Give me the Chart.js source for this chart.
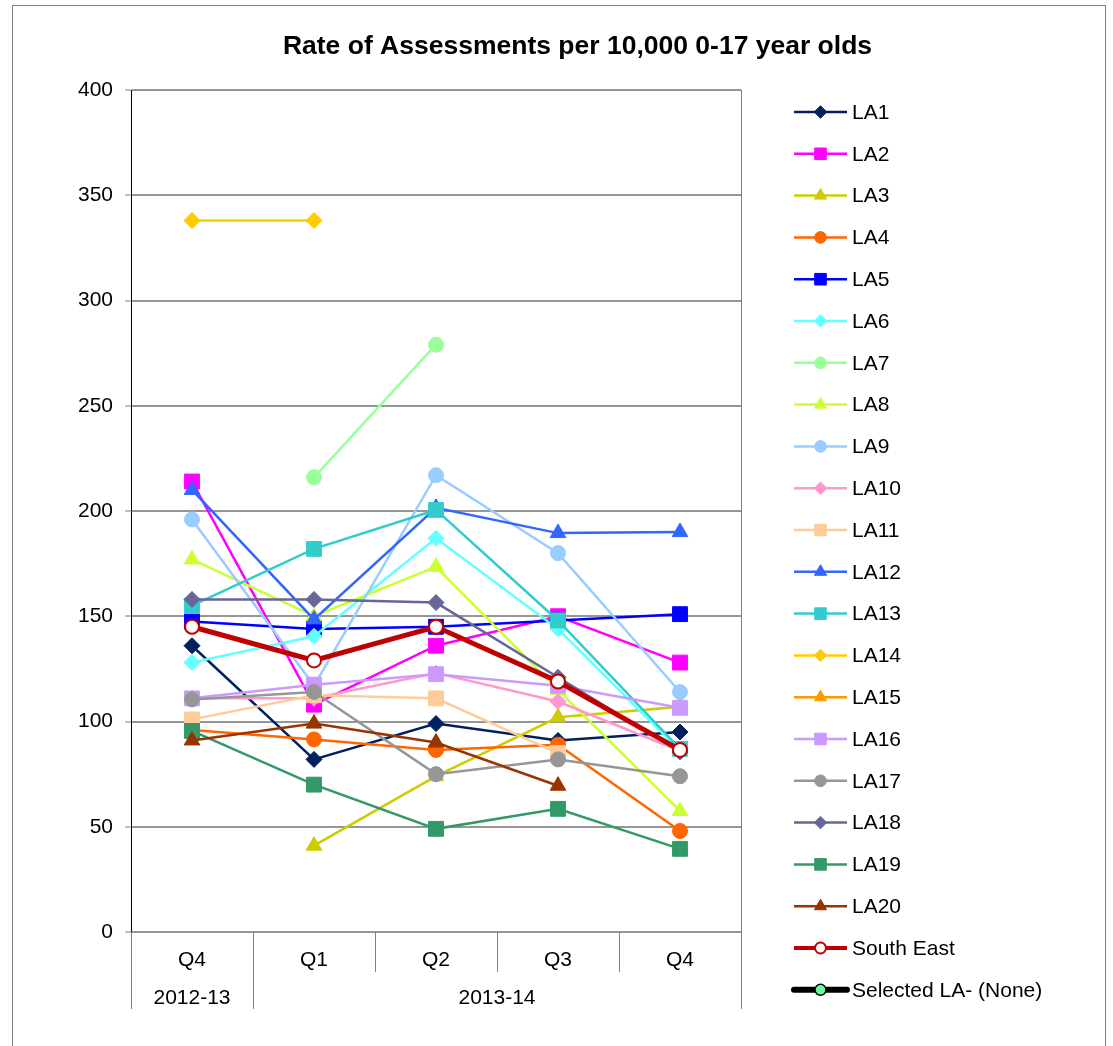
<!DOCTYPE html>
<html><head><meta charset="utf-8">
<script src="https://cdn.jsdelivr.net/npm/chart.js@4"></script>
<style>html,body{margin:0;padding:0;background:#fff}canvas{display:block}</style>
</head><body>
<canvas id="c" width="1113" height="1046"></canvas>
<script>
// ---- data ----
const quarters = ['Q4', 'Q1', 'Q2', 'Q3', 'Q4'];
const yearOfQuarter = ['2012-13', '2013-14', '2013-14', '2013-14', '2013-14'];
const titleText = 'Rate of Assessments per 10,000 0-17 year olds';
const yMin = 0, yMax = 400, yStep = 50;

const seriesNames = ['LA1','LA2','LA3','LA4','LA5','LA6','LA7','LA8','LA9','LA10',
  'LA11','LA12','LA13','LA14','LA15','LA16','LA17','LA18','LA19','LA20','South East','Selected LA- (None)'];

const la1  = [136, 82, 99, 91, 95];
const la2  = [214, 108, 136, 150, 128];
const la3  = [null, 41, 74, 102, 107];
const la4  = [96, 91.5, 86.5, 89, 48];
const la5  = [147.5, 144, 145, 148, 151];
const la6  = [128, 140.5, 187, 144, 86];
const la7  = [null, 216, 279, null, null];
const la8  = [177, 150, 173.5, 115, 57.5];
const la9  = [196, 117, 217, 180, 114];
const la10 = [111, 111, 123, 109.5, 86];
const la11 = [101, 112.5, 111, 85, null];
const la12 = [210, 148.5, 201.5, 189.5, 190];
const la13 = [155, 182, 200.5, 148, 87];
const la14 = [338, 338, null, null, null];
const la15 = [null, null, null, null, null];
const la16 = [111, 117.5, 122.5, 117, 106.5];
const la17 = [110.5, 114, 75, 82, 74];
const la18 = [158, 158, 156.5, 121, 85.5];
const la19 = [95.5, 70, 49, 58.5, 39.5];
const la20 = [91, 99, 90, 69.5, null];
const southEast = [145, 129, 145, 119, 86.5];
const selectedLA = [null, null, null, null, null];

const seriesValues = [la1, la2, la3, la4, la5, la6, la7, la8, la9, la10,
  la11, la12, la13, la14, la15, la16, la17, la18, la19, la20, southEast, selectedLA];

// ---- styles ----
const lineColors = ['#002060','#FF00FF','#CCCC00','#FF6600','#0000FF','#66FFFF','#99FF99','#CCFF33','#99CCFF','#FF99CC',
  '#FFCC99','#3366FF','#33CCCC','#FFCC00','#FF9900','#CC99FF','#969696','#666699','#339966','#993300','#C00000','#000000'];
const markerStyles = ['rectRot','rect','triangle','circle','rect','rectRot','circle','triangle','circle','rectRot',
  'rect','triangle','rect','rectRot','triangle','rect','circle','rectRot','rect','triangle','circle','circle'];
const FONT = "'Liberation Sans', Arial, Helvetica, sans-serif";

function markerRadius(style){
  if (style === 'rect') return 10.5;
  if (style === 'triangle') return 9;
  if (style === 'rectRot') return 8;
  return 7.5;
}

const datasets = seriesNames.map((name, i) => {
  const col = lineColors[i];
  const st = markerStyles[i];
  const isSE = name === 'South East';
  const isSel = i === seriesNames.length - 1;
  return {
    label: name,
    data: seriesValues[i],
    borderColor: col,
    backgroundColor: col,
    borderWidth: isSE ? 5 : (isSel ? 5 : 2.5),
    pointStyle: st,
    pointRadius: isSE ? 7 : markerRadius(st),
    pointBackgroundColor: isSE ? '#FFFFFF' : (isSel ? '#66FF99' : col),
    pointBorderColor: col,
    pointBorderWidth: isSE ? 2 : 1,
    tension: 0,
    spanGaps: false,
    yAxisID: 'y',
    order: -i
  };
});

function drawMarker(ctx, style, x, y, r){
  ctx.beginPath();
  if (style === 'circle') {
    ctx.arc(x, y, r, 0, Math.PI * 2);
  } else if (style === 'rect') {
    const s = r * Math.SQRT1_2;
    ctx.rect(x - s, y - s, 2 * s, 2 * s);
  } else if (style === 'rectRot') {
    ctx.moveTo(x, y - r); ctx.lineTo(x + r, y); ctx.lineTo(x, y + r); ctx.lineTo(x - r, y);
  } else if (style === 'triangle') {
    let a = 0;
    ctx.moveTo(x + Math.sin(a) * r, y - Math.cos(a) * r);
    a += 2 * Math.PI / 3; ctx.lineTo(x + Math.sin(a) * r, y - Math.cos(a) * r);
    a += 2 * Math.PI / 3; ctx.lineTo(x + Math.sin(a) * r, y - Math.cos(a) * r);
  }
  ctx.closePath();
}

const decor = {
  id: 'decor',
  beforeDraw(chart){
    const ctx = chart.ctx;
    ctx.save();
    ctx.fillStyle = '#FFFFFF';
    ctx.fillRect(0, 0, chart.width, chart.height);
    ctx.strokeStyle = '#808080';
    ctx.lineWidth = 1;
    ctx.strokeRect(12.5, 5.5, 1093, 1080);
    ctx.restore();
  },
  beforeDatasetsDraw(chart){
    const ctx = chart.ctx, a = chart.chartArea;
    ctx.save();
    ctx.strokeStyle = '#808080';
    ctx.lineWidth = 1;
    ctx.beginPath();
    ctx.moveTo(Math.round(a.right) + 0.5, a.top);
    ctx.lineTo(Math.round(a.right) + 0.5, a.bottom);
    ctx.stroke();
    ctx.restore();
  },
  afterDraw(chart){
    const ctx = chart.ctx, a = chart.chartArea, xs = chart.scales.x;
    const n = quarters.length;
    const half = (xs.getPixelForValue(1) - xs.getPixelForValue(0)) / 2;
    ctx.save();
    // category dividers
    ctx.strokeStyle = '#808080';
    ctx.lineWidth = 1;
    for (let i = 0; i <= n; i++) {
      const bx = i < n ? xs.getPixelForValue(i) - half : xs.getPixelForValue(n - 1) + half;
      const isGroupEdge = i === 0 || i === n || yearOfQuarter[i] !== yearOfQuarter[i - 1];
      const len = isGroupEdge ? 77 : 40;
      const px = Math.round(bx) + 0.5;
      ctx.beginPath();
      ctx.moveTo(px, a.bottom);
      ctx.lineTo(px, a.bottom + len);
      ctx.stroke();
    }
    // group labels
    ctx.fillStyle = '#000';
    ctx.font = '21px ' + FONT;
    ctx.textAlign = 'center';
    ctx.textBaseline = 'middle';
    let start = 0;
    for (let i = 1; i <= n; i++) {
      if (i === n || yearOfQuarter[i] !== yearOfQuarter[start]) {
        const x0 = xs.getPixelForValue(start) - half;
        const x1 = xs.getPixelForValue(i - 1) + half;
        ctx.fillText(yearOfQuarter[start], (x0 + x1) / 2, a.bottom + 66);
        start = i;
      }
    }
    // legend
    const lx0 = a.right + 53, lx1 = a.right + 106, tx = a.right + 111;
    const ly0 = a.top + 22, step = 41.8;
    ctx.textAlign = 'left';
    chart.data.datasets.forEach((ds, i) => {
      const y = ly0 + i * step;
      const isSel = i === seriesNames.length - 1;
      ctx.strokeStyle = ds.borderColor;
      ctx.lineWidth = ds.label === 'South East' ? 4 : (isSel ? 6 : 2.5);
      ctx.lineCap = isSel ? 'round' : 'butt';
      ctx.beginPath();
      ctx.moveTo(lx0, y); ctx.lineTo(lx1, y); ctx.stroke();
      const mx = (lx0 + lx1) / 2;
      const r = ds.label === 'South East' || isSel ? 5.5 : ds.pointRadius * 0.78;
      drawMarker(ctx, ds.pointStyle, mx, y, r);
      ctx.fillStyle = ds.pointBackgroundColor;
      ctx.fill();
      ctx.lineWidth = ds.label === 'South East' ? 2 : (isSel ? 1.5 : 1);
      ctx.strokeStyle = isSel ? '#000' : ds.pointBorderColor;
      ctx.stroke();
      ctx.fillStyle = '#000';
      ctx.fillText(ds.label, tx, y + 1);
    });
    ctx.restore();
  }
};

new Chart(document.getElementById('c'), {
  type: 'line',
  data: { labels: quarters, datasets },
  plugins: [decor],
  options: {
    responsive: false,
    animation: false,
    events: [],
    layout: { padding: { left: 42, right: 0, top: 0, bottom: 0 } },
    plugins: {
      legend: { display: false },
      tooltip: { enabled: false },
      title: {
        display: true,
        text: titleText,
        color: '#000',
        font: { family: FONT, size: 26.5, weight: 'bold', lineHeight: 1.2 },
        padding: { top: 31, bottom: 27.2 }
      }
    },
    scales: {
      x: {
        type: 'category',
        offset: true,
        grid: { display: false, drawTicks: false },
        border: { display: false },
        ticks: { color: '#000', font: { family: FONT, size: 21 }, padding: 16, maxRotation: 0, autoSkip: false },
        afterFit(scale){ scale.height = 114; }
      },
      y: {
        position: 'left',
        min: yMin, max: yMax,
        ticks: { stepSize: yStep, color: '#000', font: { family: FONT, size: 21 }, padding: 12 },
        grid: { color: '#969696', lineWidth: 2, tickLength: 6, tickColor: '#808080', tickWidth: 1 },
        border: { display: true, color: '#000', width: 1 },
        afterFit(scale){ scale.width = 89; }
      },
      legendSpace: {
        type: 'linear',
        position: 'right',
        display: true,
        grid: { display: false, drawTicks: false },
        border: { display: false },
        ticks: { display: false },
        afterFit(scale){ scale.width = 372; }
      }
    }
  }
});
</script>
</body></html>
